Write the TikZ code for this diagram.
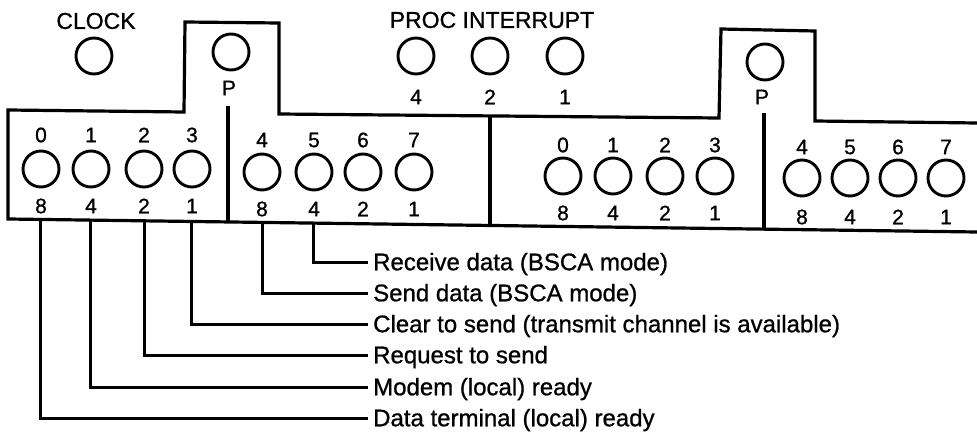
\documentclass[tikz,border=0pt]{standalone}
\usepackage{fontspec}
\setmainfont{Liberation Sans}[BoldFont={Liberation Sans}, BoldFeatures={FakeBold=0.9}]
\begin{document}
\begin{tikzpicture}[x=1pt,y=-1pt,
  panel/.style={line width=3.2pt, line join=miter},
  divider/.style={line width=3.1pt},
  lamp/.style={circle, draw, line width=2.9pt, minimum size=36pt, inner sep=0pt},
  num/.style={font=\fontsize{21}{21}\selectfont\bfseries, inner sep=0pt},
  heading/.style={font=\fontsize{23}{23}\selectfont\bfseries, inner sep=0pt},
  caption/.style={font=\fontsize{24}{24}\selectfont\bfseries, anchor=west,
                  inner xsep=5pt, inner ysep=0pt, text height=16.5pt, text depth=0pt},
  leader/.style={line width=3pt}]
\useasboundingbox (0,0) rectangle (977,436);

% Panel outline with the two raised tabs
\draw[panel] (977,232) -- (8,219) -- (8,110) -- (184,112) -- (185,22) -- (279,23)
  -- (279,114) -- (719,118) -- (721,29) -- (815,31) -- (815,121) -- (977,123);

% Vertical dividers
\draw[divider] (228,106) -- (228,222);
\draw[divider] (490,116) -- (490,226);
\draw[divider] (764,113) -- (764,229);

% Clock lamp
\node[heading] (clocklbl) at (96,21) {CLOCK};
\node[lamp] (clock) at (94,56) {};

% Parity lamps
\node[lamp] (parA) at (231,52) {};
\node[num] (parAl) at (229,88) {P};
\node[lamp] (parB) at (765,62) {};
\node[num] (parBl) at (762,97) {P};

% Processor interrupt lamps
\node[heading] (proclbl) at (492,20) {PROC INTERRUPT};
\foreach \w/\x in {4/416,2/490,1/565} {
  \node[lamp] (pi\w) at (\x,56) {};
  \node[num] (pi\w l) at (\x,97) {\w};
}

% Bit lamps, left half
\foreach \i/\x/\w in {0/41/8,1/91/4,2/144/2,3/192/1} {
  \node[lamp] (la\i) at (\x,169) {};
  \node[num] (la\i t) at (\x,135) {\i};
  \node[num] (la\i b) at (\x,206) {\w};
}
\foreach \i/\x/\w in {4/262/8,5/314/4,6/363/2,7/414/1} {
  \node[lamp] (lb\i) at (\x,172) {};
  \node[num] (lb\i t) at (\x,140) {\i};
  \node[num] (lb\i b) at (\x,209) {\w};
}

% Bit lamps, right half
\foreach \i/\x/\w in {0/563/8,1/613/4,2/665/2,3/715/1} {
  \node[lamp] (ra\i) at (\x,176) {};
  \node[num] (ra\i t) at (\x,145) {\i};
  \node[num] (ra\i b) at (\x,213) {\w};
}
\foreach \i/\x/\w in {4/802/8,5/850/4,6/898/2,7/946/1} {
  \node[lamp] (rb\i) at (\x,178) {};
  \node[num] (rb\i t) at (\x,147) {\i};
  \node[num] (rb\i b) at (\x,217) {\w};
}

% Signal captions
\node[caption] (rxd) at (368,262) {Receive data (BSCA mode)};
\node[caption] (txd) at (368,293) {Send data (BSCA mode)};
\node[caption] (cts) at (368,324) {Clear to send (transmit channel is available)};
\node[caption] (rts) at (368,355) {Request to send};
\node[caption] (dsr) at (368,387) {Modem (local) ready};
\node[caption] (dtr) at (368,418) {Data terminal (local) ready};

% Leader start points on the lower panel edge
\coordinate (e0) at (40,219.4);
\coordinate (e1) at (90,220.1);
\coordinate (e2) at (144,220.8);
\coordinate (e3) at (191,221.5);
\coordinate (e4) at (262,222.4);
\coordinate (e5) at (313,223.1);

% Leaders
\draw[leader] (e5) |- (rxd.west);
\draw[leader] (e4) |- (txd.west);
\draw[leader] (e3) |- (cts.west);
\draw[leader] (e2) |- (rts.west);
\draw[leader] (e1) |- (dsr.west);
\draw[leader] (e0) |- (dtr.west);
\end{tikzpicture}
\end{document}
